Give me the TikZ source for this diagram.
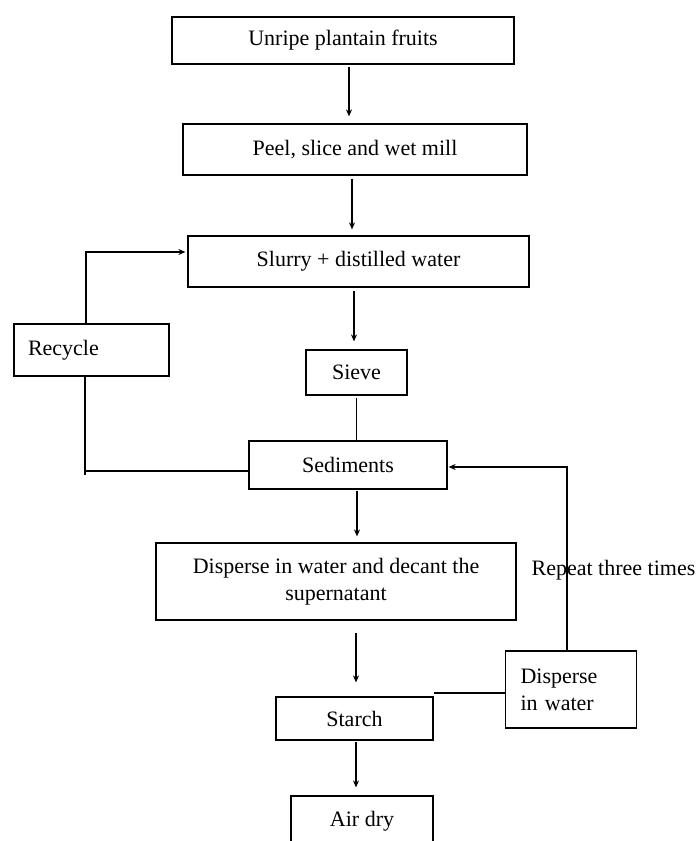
\documentclass[tikz,border=0pt]{standalone}
\usepackage{fontspec}
\setmainfont{Liberation Serif}
\usetikzlibrary{arrows.meta}
\begin{document}
\begin{tikzpicture}[x=1pt,y=-1pt,
  box/.style={draw, line width=1.2pt, inner sep=0pt, align=center},
  arr/.style={line width=1.1pt, -{Stealth[length=7pt,width=6pt]}},
  ln/.style={line width=1.2pt},
  every node/.style={font=\fontsize{22}{27}\selectfont}]
\path[use as bounding box, clip] (0,0) rectangle (700,841);
\node[box, minimum width=342pt, minimum height=47pt] (b1) at (343,40.5) {Unripe plantain fruits};
\node[box, minimum width=344pt, minimum height=51pt] (b2) at (355,149.5) {Peel, slice and wet mill};
\node[box, minimum width=341pt, minimum height=51pt] (b3) at (358.5,261.5) {Slurry + distilled water};
\node[box, minimum height=52pt, text width=127pt, inner xsep=14pt, align=left] (rec) at (91.5,350) {Recycle};
\node[box, minimum width=101pt, minimum height=45pt] (sieve) at (356.5,372.5) {Sieve};
\node[box, minimum width=198pt, minimum height=48pt] (sed) at (348,465) {Sediments};
\node[box, minimum width=360pt, minimum height=77pt] (disp) at (336,581.5) {Disperse in water and decant the\\supernatant};
\node[box, minimum height=77pt, text width=101pt, inner xsep=15pt, align=left] (diw) at (571,689.5) {Disperse\\in water};
\node[box, minimum width=157pt, minimum height=43pt] (starch) at (354.5,718.5) {Starch};
\node[box, minimum width=142pt, minimum height=50pt] (air) at (362,821) {Air dry};
\node[inner sep=0pt] (rep) at (613.5,570) {Repeat three times};
\coordinate (recend) at (85,475);
% main flow
\draw[arr, shorten <=2pt, shorten >=7pt] ([xshift=6pt]b1.south) -- ([xshift=6pt]b1.south |- b2.north);
\draw[arr, shorten <=3pt, shorten >=6pt] ([xshift=-3pt]b2.south) -- ([xshift=-3pt]b2.south |- b3.north);
\draw[arr, shorten <=3pt, shorten >=8pt] ([xshift=-4.5pt]b3.south) -- ([xshift=-4.5pt]b3.south |- sieve.north);
\draw[ln, shorten <=2pt] (sieve.south) -- (sieve.south |- sed.north);
\draw[arr, shorten <=1pt, shorten >=6pt] ([xshift=9pt]sed.south) -- ([xshift=9pt]sed.south |- disp.north);
\draw[arr, shorten <=12pt, shorten >=14pt] ([xshift=20pt]disp.south) -- ([xshift=20pt]disp.south |- starch.north);
\draw[arr, shorten <=1pt, shorten >=8pt] ([xshift=1.5pt]starch.south) -- ([xshift=1.5pt]starch.south |- air.north);
% recycle loop
\draw[arr, shorten >=2pt] ([xshift=-5.5pt]rec.north) |- ([yshift=9.5pt]b3.west);
\draw[ln] ([xshift=-6.5pt]rec.south) -- (recend);
\draw[ln] ([yshift=-6pt]sed.west) -- ([yshift=-6pt]sed.west -| recend);
% repeat loop
\draw[arr, shorten >=1pt] ([xshift=-4pt]diw.north) |- ([yshift=-2pt]sed.east);
\draw[ln] ([yshift=-3.5pt]diw.west) -- ([yshift=-3.5pt]diw.west -| starch.east);
\end{tikzpicture}
\end{document}
